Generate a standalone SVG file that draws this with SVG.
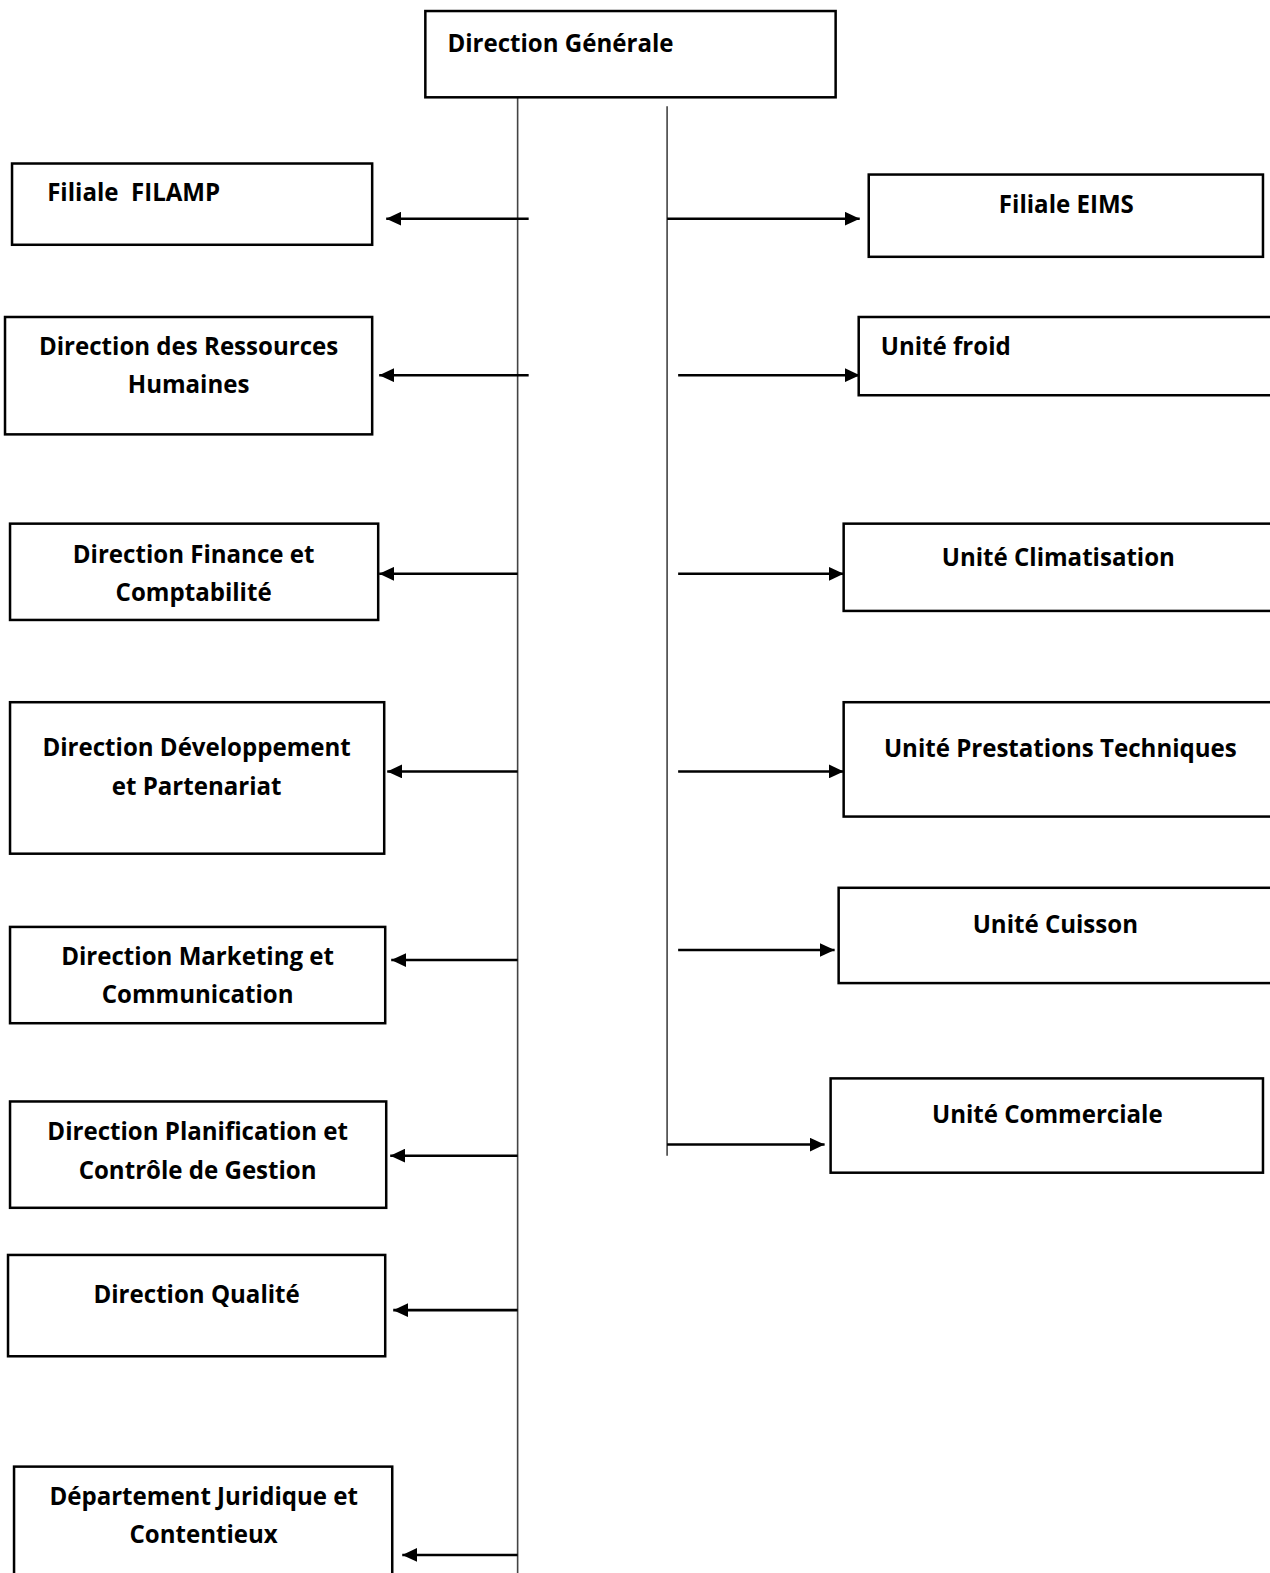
<svg xmlns="http://www.w3.org/2000/svg" width="1270" height="1573" viewBox="0 0 1270 1573">
<style>
.box{fill:#fff;stroke:#000;stroke-width:2.5}
.t{font-family:"Open Sans","Liberation Sans",sans-serif;font-weight:bold;font-size:24px;fill:#000}
.c{text-anchor:middle}
.trunk{stroke:#444;stroke-width:1.6;fill:none}
.arr{stroke:#000;stroke-width:2.5;fill:none;marker-end:url(#ah)}
</style>
<defs>
<marker id="ah" markerUnits="userSpaceOnUse" markerWidth="16" markerHeight="14" refX="15" refY="7" orient="auto">
<path d="M0,0 L15,7 L0,14 z" fill="#000"/>
</marker>
</defs>
<rect width="1270" height="1573" fill="#fff"/>
<g transform="scale(1.00316)">
<g id="connectors">
<line class="trunk" x1="516" y1="97" x2="516" y2="1570"/>
<line class="trunk" x1="665" y1="106" x2="665" y2="1152"/>
<line class="arr" x1="527" y1="218" x2="385" y2="218"/>
<line class="arr" x1="527" y1="374" x2="378" y2="374"/>
<line class="arr" x1="516" y1="572" x2="378" y2="572"/>
<line class="arr" x1="516" y1="769" x2="386" y2="769"/>
<line class="arr" x1="516" y1="957" x2="390" y2="957"/>
<line class="arr" x1="516" y1="1152" x2="389" y2="1152"/>
<line class="arr" x1="516" y1="1306" x2="392" y2="1306"/>
<line class="arr" x1="516" y1="1550" x2="401" y2="1550"/>
<line class="arr" x1="665" y1="218" x2="857" y2="218"/>
<line class="arr" x1="676" y1="374" x2="857" y2="374"/>
<line class="arr" x1="676" y1="572" x2="841" y2="572"/>
<line class="arr" x1="676" y1="769" x2="841" y2="769"/>
<line class="arr" x1="676" y1="947" x2="832" y2="947"/>
<line class="arr" x1="665" y1="1141" x2="822" y2="1141"/>
</g>
<g id="dg">
<rect class="box" x="424" y="11" width="409" height="86"/>
<text class="t" x="446" y="52">Direction Générale</text>
</g>
<g id="filamp">
<rect class="box" x="12" y="163" width="359" height="81"/>
<text class="t" x="47" y="200" xml:space="preserve">Filiale  FILAMP</text>
</g>
<g id="drh">
<rect class="box" x="5" y="316" width="366" height="117"/>
<text class="t c" x="188" y="354">Direction des Ressources</text>
<text class="t c" x="188" y="392">Humaines</text>
</g>
<g id="finance">
<rect class="box" x="10" y="522" width="367" height="96"/>
<text class="t c" x="193" y="561">Direction Finance et</text>
<text class="t c" x="193" y="599">Comptabilité</text>
</g>
<g id="developpement">
<rect class="box" x="10" y="700" width="373" height="151"/>
<text class="t c" x="196" y="754">Direction Développement</text>
<text class="t c" x="196" y="792">et Partenariat</text>
</g>
<g id="marketing">
<rect class="box" x="10" y="924" width="374" height="96"/>
<text class="t c" x="197" y="962">Direction Marketing et</text>
<text class="t c" x="197" y="1000">Communication</text>
</g>
<g id="planification">
<rect class="box" x="10" y="1098" width="375" height="106"/>
<text class="t c" x="197" y="1136">Direction Planification et</text>
<text class="t c" x="197" y="1175">Contrôle de Gestion</text>
</g>
<g id="qualite">
<rect class="box" x="8" y="1251" width="376" height="101"/>
<text class="t c" x="196" y="1299">Direction Qualité</text>
</g>
<g id="juridique">
<rect class="box" x="14" y="1462" width="377" height="130"/>
<text class="t c" x="203" y="1500">Département Juridique et</text>
<text class="t c" x="203" y="1538">Contentieux</text>
</g>
<g id="eims">
<rect class="box" x="866" y="174" width="393" height="82"/>
<text class="t c" x="1063" y="212">Filiale EIMS</text>
</g>
<g id="froid">
<rect class="box" x="856" y="316" width="430" height="78"/>
<text class="t" x="878" y="354">Unité froid</text>
</g>
<g id="climatisation">
<rect class="box" x="841" y="522" width="445" height="87"/>
<text class="t c" x="1055" y="564">Unité Climatisation</text>
</g>
<g id="prestations">
<rect class="box" x="841" y="700" width="445" height="114"/>
<text class="t c" x="1057" y="755">Unité Prestations Techniques</text>
</g>
<g id="cuisson">
<rect class="box" x="836" y="885" width="450" height="95"/>
<text class="t c" x="1052" y="930">Unité Cuisson</text>
</g>
<g id="commerciale">
<rect class="box" x="828" y="1075" width="431" height="94"/>
<text class="t c" x="1044" y="1119">Unité Commerciale</text>
</g>
</g>
</svg>
